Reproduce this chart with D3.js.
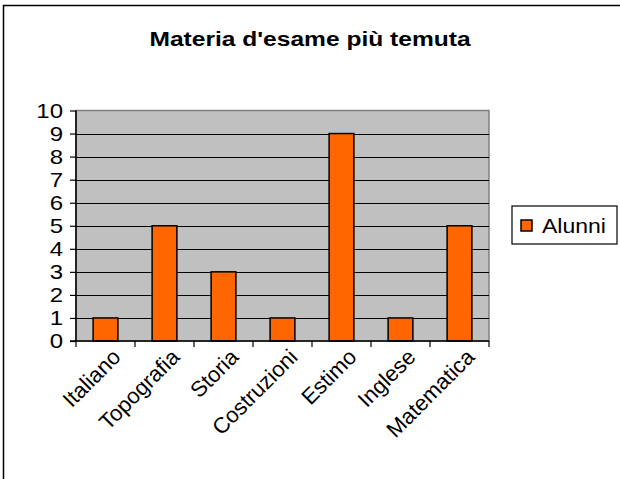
<!DOCTYPE html>
<html>
<head>
<meta charset="utf-8">
<script src="https://cdn.jsdelivr.net/npm/d3@7/dist/d3.min.js"></script>
<style>
  html, body { margin: 0; padding: 0; background: #fff; }
  svg { display: block; }
  text { font-family: "Liberation Sans", Arial, sans-serif; fill: #000; }
</style>
</head>
<body>
<svg id="chart" width="620" height="479"></svg>
<script>
const categories = ["Italiano", "Topografia", "Storia", "Costruzioni", "Estimo", "Inglese", "Matematica"];
const values = [1, 5, 3, 1, 9, 1, 5];
const yTicks = [0, 1, 2, 3, 4, 5, 6, 7, 8, 9, 10];
const seriesName = "Alunni";
const title = "Materia d'esame più temuta";

const svg = d3.select("#chart");
const SX = 1.15;

// outer frame
svg.append("rect").attr("x", 3.5).attr("y", 5.5).attr("width", 640).attr("height", 500)
  .attr("fill", "#fff").attr("stroke", "#000").attr("stroke-width", 1.5);

const plot = { left: 76, right: 489, top: 110.5, bottom: 341 };

const x = d3.scaleBand().domain(categories).range([plot.left, plot.right]).paddingInner(0.58).paddingOuter(0.29);
const xc = d3.scaleBand().domain(categories).range([plot.left, plot.right]);
const y = d3.scaleLinear().domain([0, 10]).range([plot.bottom, plot.top]);

// plot background
svg.append("rect").attr("x", plot.left).attr("y", plot.top)
  .attr("width", plot.right - plot.left).attr("height", plot.bottom - plot.top)
  .attr("fill", "#C0C0C0").attr("stroke", "#808080").attr("stroke-width", 1.5);

// gridlines
svg.append("g").selectAll("line").data(yTicks.filter(t => t > 0 && t < 10)).join("line")
  .attr("x1", plot.left).attr("x2", plot.right)
  .attr("y1", d => Math.round(y(d)) + 0.5).attr("y2", d => Math.round(y(d)) + 0.5)
  .attr("stroke", "#000").attr("stroke-width", 1);

// bars
svg.append("g").selectAll("rect").data(values).join("rect")
  .attr("x", (d, i) => x(categories[i]))
  .attr("width", x.bandwidth())
  .attr("y", d => y(d))
  .attr("height", d => y(0) - y(d))
  .attr("fill", "#FF6600").attr("stroke", "#000").attr("stroke-width", 1.5);

// y axis
const yAxis = d3.axisLeft(y).tickValues(yTicks).tickSize(6).tickPadding(6).tickFormat(d3.format("d"));
const gy = svg.append("g").attr("transform", `translate(${plot.left},0)`).call(yAxis);
gy.select(".domain").attr("stroke", "#000").attr("stroke-width", 1.5).attr("d", `M0,${plot.top}V${plot.bottom}`);
gy.selectAll(".tick line").attr("stroke", "#000").attr("stroke-width", 1.2);
gy.selectAll(".tick text").each(function(d) {
  d3.select(this).attr("x", null).attr("dy", null).attr("y", null)
   .attr("text-anchor", "end").attr("dominant-baseline", "central")
   .attr("transform", `translate(${-13},${0}) scale(1.2,1)`)
   .style("font-size", "20px").style("font-family", "Liberation Sans, Arial, sans-serif");
});

// x axis
const gx = svg.append("g").attr("transform", `translate(0,${plot.bottom})`);
gx.append("line").attr("x1", plot.left - 6).attr("x2", plot.right).attr("y1", 0).attr("y2", 0)
  .attr("stroke", "#000").attr("stroke-width", 1.5);
const tickPos = categories.map(c => xc(c)).concat([plot.right]);
gx.selectAll("line.tk").data(tickPos).join("line").attr("class", "tk")
  .attr("x1", d => d).attr("x2", d => d).attr("y1", 0).attr("y2", 6)
  .attr("stroke", "#000").attr("stroke-width", 1.2);
gx.selectAll("text.lbl").data(categories).join("text").attr("class", "lbl")
  .attr("transform", d => `translate(${xc(d) + xc.bandwidth() / 2 + 11},${12}) rotate(-45)`)
  .attr("text-anchor", "end").attr("dy", "0.35em")
  .style("font-size", "22px")
  .text(d => d);

// title
svg.append("text")
  .attr("transform", `translate(310,46) scale(1.17,1)`)
  .attr("text-anchor", "middle")
  .style("font-size", "21px").style("font-weight", "bold")
  .text(title);

// legend
const lg = svg.append("g");
lg.append("rect").attr("x", 512).attr("y", 206).attr("width", 105).attr("height", 38)
  .attr("fill", "#fff").attr("stroke", "#000").attr("stroke-width", 1.2);
lg.append("rect").attr("x", 521).attr("y", 220).attr("width", 11).attr("height", 11)
  .attr("fill", "#FF6600").attr("stroke", "#000").attr("stroke-width", 1.5);
lg.append("text").attr("transform", `translate(542,233) scale(${SX},1)`)
  .style("font-size", "20px").text(seriesName);
</script>
</body>
</html>
